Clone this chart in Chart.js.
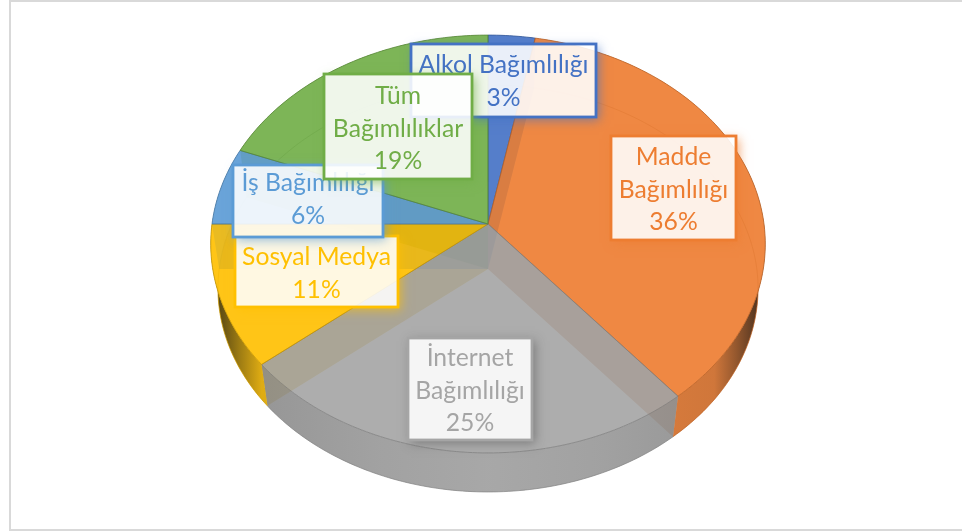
<!DOCTYPE html>
<html>
<head>
<meta charset="utf-8">
<style>
  html, body { margin: 0; padding: 0; background: #fff; }
  #wrap { width: 962px; height: 532px; position: relative; }
</style>
</head>
<body>
<div id="wrap"><canvas id="chart" width="962" height="532"></canvas></div>
<script src="https://cdn.jsdelivr.net/npm/chart.js@4"></script>
<script>
const categories = ['Alkol Bağımlılığı', 'Madde Bağımlılığı', 'İnternet Bağımlılığı', 'Sosyal Medya', 'İş Bağımlılığı', 'Tüm Bağımlılıklar'];
const values = [3, 36, 25, 11, 6, 19];
const labelLines = [['Alkol Bağımlılığı'], ['Madde', 'Bağımlılığı'], ['İnternet', 'Bağımlılığı'], ['Sosyal Medya'], ['İş Bağımlılığı'], ['Tüm', 'Bağımlılıklar']];
const sliceColors = ['#4472C4', '#ED7D31', '#A5A5A5', '#FFC000', '#5B9BD5', '#70AD47'];

// label boxes: left, top, right, bottom, first line centre
const labelBoxes = [
  [411, 44, 596, 117, 65.5],
  [611, 136, 736, 240, 157.5],
  [408, 338, 532, 440, 358.5],
  [235, 236, 398, 307, 257.5],
  [233, 165, 383, 237, 183.5],
  [324, 74, 472, 179, 96.5]
];

// perspective of the pie, fitted to the picture
const PERSP = 0.0957;
const X_STRETCH = 276 / 207;
const LOWER_SCALE = 0.974;
const DEPTH = 45;

function mix(hex, f) {
  const n = parseInt(hex.slice(1), 16);
  const r = (n >> 16) & 255, g = (n >> 8) & 255, b = n & 255;
  return `rgb(${Math.round(r * f)},${Math.round(g * f)},${Math.round(b * f)})`;
}

function alpha(hex, a) {
  const n = parseInt(hex.slice(1), 16);
  return `rgba(${(n >> 16) & 255},${(n >> 8) & 255},${n & 255},${a})`;
}

function project(arc, angle, lower) {
  const u = Math.cos(angle), v = Math.sin(angle);
  const w = 1 - PERSP * v;
  const R = arc.outerRadius;
  if (lower) {
    return [arc.x + LOWER_SCALE * R * X_STRETCH * u / w, arc.y + DEPTH + LOWER_SCALE * R * v / w];
  }
  return [arc.x + R * X_STRETCH * u / w, arc.y + R * v / w];
}

function rimPoints(arc, from, to, lower) {
  const pts = [];
  const steps = Math.max(2, Math.ceil((to - from) / (Math.PI / 180)));
  for (let i = 0; i <= steps; i++) pts.push(project(arc, from + (to - from) * i / steps, lower));
  return pts;
}

function tracePoly(ctx, pts, open) {
  ctx.beginPath();
  pts.forEach((p, i) => (i ? ctx.lineTo(p[0], p[1]) : ctx.moveTo(p[0], p[1])));
  if (!open) ctx.closePath();
}

function slicePath(ctx, arc, lower) {
  const apex = [arc.x, arc.y + (lower ? DEPTH : 0)];
  tracePoly(ctx, [apex].concat(rimPoints(arc, arc.startAngle, arc.endAngle, lower)));
}

function sideGradient(ctx, arc, color) {
  const R = arc.outerRadius * X_STRETCH;
  const g = ctx.createLinearGradient(arc.x - R, 0, arc.x + R, 0);
  const stops = [[0, 0.15], [0.02, 0.3], [0.05, 0.55], [0.09, 0.85], [0.3, 0.93], [0.5, 0.97], [0.7, 0.93], [0.91, 0.85], [0.95, 0.55], [0.98, 0.3], [1, 0.15]];
  stops.forEach(s => g.addColorStop(s[0], mix(color, s[1])));
  return g;
}

function drawOuterWall(ctx, arc, from, to, fill, opacity, edge, edgeOpacity) {
  if (to <= from) return;
  const top = rimPoints(arc, from, to, false);
  const low = rimPoints(arc, from, to, true).reverse();
  ctx.globalAlpha = opacity;
  ctx.fillStyle = fill;
  tracePoly(ctx, top.concat(low));
  ctx.fill();
  ctx.globalAlpha = edgeOpacity;
  ctx.strokeStyle = edge;
  ctx.lineWidth = 1;
  tracePoly(ctx, low, true);
  ctx.stroke();
}

const pie3d = {
  id: 'pie3d',
  beforeDraw(chart) {
    const ctx = chart.ctx;
    ctx.save();
    ctx.fillStyle = '#fff';
    ctx.fillRect(0, 0, 962, 532);
    ctx.fillStyle = '#d9d9d9';
    ctx.fillRect(9, 0, 953, 2);
    ctx.fillRect(9, 0, 2, 531);
    ctx.fillRect(9, 529, 953, 2);
    ctx.restore();
  },
  beforeDatasetsDraw(chart) {
    const ctx = chart.ctx;
    const arcs = chart.getDatasetMeta(0).data;
    const colors = chart.data.datasets[0].backgroundColor;
    const outline = rimPoints(arcs[0], 0, Math.PI * 2, false);
    ctx.save();

    // bottom faces
    arcs.forEach((arc, i) => {
      ctx.globalAlpha = 0.5;
      ctx.fillStyle = colors[i];
      slicePath(ctx, arc, true);
      ctx.fill();
    });

    // radial walls
    arcs.forEach((arc, i) => {
      [arc.startAngle, arc.endAngle].forEach(a => {
        const apexTop = [arc.x, arc.y];
        const apexLow = [arc.x, arc.y + DEPTH];
        ctx.globalAlpha = 0.3;
        ctx.fillStyle = mix(colors[i], 0.6);
        tracePoly(ctx, [apexTop, project(arc, a, false), project(arc, a, true), apexLow]);
        ctx.fill();
      });
    });

    // outer walls: pale where the top covers them, shaded outside it
    arcs.forEach((arc, i) => {
      const tint = alpha(colors[i], 0.5);
      const edge = mix(colors[i], 0.7);
      ctx.save();
      tracePoly(ctx, outline);
      ctx.clip();
      drawOuterWall(ctx, arc, arc.startAngle, arc.endAngle, tint, 1, edge, 0.5);
      ctx.restore();

      ctx.save();
      ctx.beginPath();
      ctx.rect(0, 0, 962, 532);
      outline.forEach((p, j) => (j ? ctx.lineTo(p[0], p[1]) : ctx.moveTo(p[0], p[1])));
      ctx.closePath();
      ctx.clip('evenodd');
      drawOuterWall(ctx, arc, arc.startAngle, arc.endAngle, sideGradient(ctx, arc, colors[i]), 0.85, mix(colors[i], 0.8), 0.7);
      ctx.restore();
    });

    // top faces
    arcs.forEach((arc, i) => {
      ctx.globalAlpha = 0.82;
      ctx.fillStyle = colors[i];
      slicePath(ctx, arc, false);
      ctx.fill();
      ctx.globalAlpha = 0.8;
      ctx.strokeStyle = mix(colors[i], 0.78);
      ctx.lineWidth = 1;
      slicePath(ctx, arc, false);
      ctx.stroke();
    });

    ctx.restore();
    return false;
  },
  afterDraw(chart) {
    const ctx = chart.ctx;
    const total = values.reduce((s, v) => s + v, 0);
    values.forEach((value, i) => {
      const [l, t, r, b, firstY] = labelBoxes[i];
      const color = sliceColors[i];
      ctx.save();

      // soft shadow, only outside the box
      ctx.save();
      ctx.beginPath();
      ctx.rect(0, 0, 962, 532);
      ctx.rect(l, t, r - l, b - t);
      ctx.clip('evenodd');
      ctx.shadowColor = i === 2 ? 'rgba(70,70,70,0.5)' : alpha(color, 0.65);
      ctx.shadowBlur = 10;
      ctx.shadowOffsetX = 3;
      ctx.shadowOffsetY = 3;
      ctx.fillStyle = '#fff';
      ctx.fillRect(l, t, r - l, b - t);
      ctx.restore();

      ctx.fillStyle = 'rgba(255,255,255,0.88)';
      ctx.fillRect(l, t, r - l, b - t);
      ctx.strokeStyle = color;
      ctx.lineWidth = 2.8;
      ctx.strokeRect(l, t, r - l, b - t);

      ctx.fillStyle = color;
      ctx.font = '24.7px Lato';
      ctx.textAlign = 'center';
      ctx.textBaseline = 'middle';
      const cx = (l + r) / 2;
      const lines = labelLines[i].concat(Math.round(value / total * 100) + '%');
      lines.forEach((line, j) => ctx.fillText(line, cx, firstY + j * 32.5));
      ctx.restore();
    });
  }
};

new Chart(document.getElementById('chart'), {
  type: 'pie',
  data: {
    labels: categories,
    datasets: [{ data: values, backgroundColor: sliceColors, radius: 207 }]
  },
  options: {
    responsive: false,
    animation: false,
    layout: { padding: { left: 14, bottom: 84 } },
    plugins: { legend: { display: false }, tooltip: { enabled: false } }
  },
  plugins: [pie3d]
});
</script>
</body>
</html>
